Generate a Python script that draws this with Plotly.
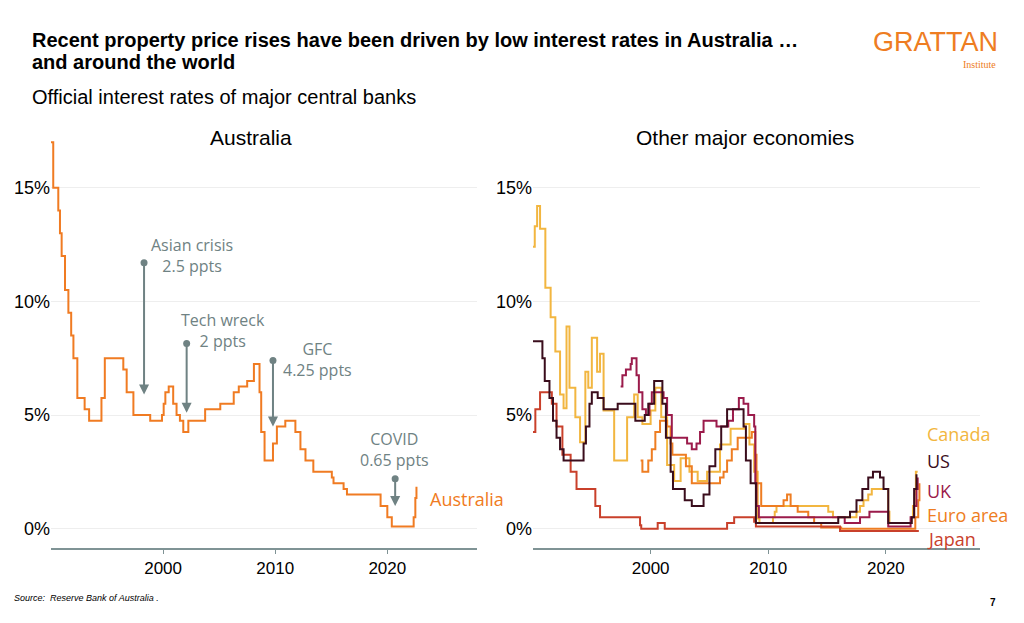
import plotly.graph_objects as go

# Australia cash rate (step changes)
aus_x = [1990, 1990.2, 1990.65, 1990.8, 1990.95, 1991.25, 1991.55, 1991.8, 1992.0, 1992.35, 1993.0, 1993.4,
         1994.5, 1994.8, 1996.45, 1996.75, 1997.35, 1998.85, 1999.9, 2000.05, 2000.2, 2000.5, 2000.9, 2001.2,
         2001.5, 2001.8, 2002.25, 2003.75, 2005.1, 2006.3, 2006.75, 2007.5, 2008.1, 2008.6, 2008.75, 2009.05,
         2009.8, 2010.15, 2010.9, 2011.8, 2012.25, 2012.7, 2013.4, 2015.05, 2015.2, 2016.1, 2016.4, 2019.4,
         2020.0, 2020.4, 2022.35, 2022.5, 2022.6]
aus_y = [17, 15, 14, 13, 12, 10.5, 9.5, 8.5, 7.5, 5.75, 5.25, 4.75,
         5.75, 7.5, 7.0, 6.0, 5.0, 4.75, 5.0, 5.5, 6.0, 6.25, 5.5, 5.0,
         4.75, 4.25, 4.75, 5.25, 5.5, 6.0, 6.25, 6.5, 7.25, 6.0, 4.25, 3.0,
         3.75, 4.5, 4.75, 4.25, 3.5, 3.0, 2.5, 2.25, 2.0, 1.75, 1.5, 1.0,
         0.5, 0.1, 0.5, 1.35, 1.85]

can_x = [1990, 1990.15, 1990.35, 1990.6, 1991.05, 1991.5, 1991.9, 1992.3, 1992.6, 1992.85, 1993.1, 1993.6,
         1994.0, 1994.45, 1994.7, 1995.0, 1995.45, 1995.7, 1996.0, 1996.9, 1997.45, 1998.0, 1998.6, 1998.9,
         1999.3, 2000.0, 2000.4, 2000.9, 2001.4, 2002.0, 2002.55, 2003.3, 2004.0, 2004.8, 2005.9, 2006.8,
         2007.95, 2008.4, 2008.8, 2009.1, 2009.25, 2010.4, 2010.55, 2010.7, 2015.1, 2015.5, 2017.5, 2017.8,
         2018.1, 2018.5, 2018.8, 2020.2, 2020.3, 2022.15, 2022.3, 2022.45, 2022.55, 2022.7]
can_y = [12.4, 13.3, 14.2, 13.2, 10.6, 9.3, 7.8, 5.9, 5.3, 8.9, 6.2, 4.9,
         3.8, 6.9, 6.2, 8.4, 6.9, 7.7, 5.2, 3.0, 3.0, 4.9, 5.9, 4.9,
         4.6, 5.2, 6.2, 4.9, 2.8, 2.1, 3.1, 2.5, 2.1, 2.5, 3.7, 4.4,
         4.6, 3.7, 2.5, 0.45, 0.25, 0.5, 0.75, 1.0, 0.75, 0.5, 0.75, 1.0,
         1.25, 1.5, 1.75, 0.75, 0.25, 0.5, 1.0, 1.5, 2.5, 2.5]

us_x = [1990, 1990.8, 1991.0, 1991.4, 1991.7, 1992.0, 1992.3, 1992.6, 1994.1, 1994.3, 1994.5, 1994.8,
        1995.0, 1995.5, 1996.0, 1997.2, 1998.7, 1999.5, 1999.8, 2000.3, 2001.0, 2001.3, 2001.7, 2001.9,
        2002.9, 2003.5, 2004.5, 2005.0, 2005.5, 2006.0, 2006.5, 2007.7, 2007.9, 2008.1, 2008.5, 2008.95,
        2015.95, 2016.95, 2017.5, 2018.0, 2018.5, 2018.9, 2019.5, 2019.8, 2020.2, 2022.2, 2022.4, 2022.6]
us_y = [8.25, 7.5, 6.5, 5.75, 4.75, 4.0, 3.5, 3.0, 3.0, 3.75, 4.5, 5.5,
        6.0, 5.75, 5.25, 5.5, 4.75, 5.0, 5.5, 6.5, 5.5, 4.0, 2.5, 1.75,
        1.25, 1.0, 1.5, 2.75, 3.5, 4.5, 5.25, 5.25, 4.5, 3.0, 2.0, 0.25,
        0.5, 0.75, 1.25, 1.75, 2.25, 2.5, 2.25, 1.75, 0.25, 0.5, 1.75, 2.4]

uk_x = [1997.45, 1997.6, 1997.9, 1998.3, 1998.4, 1998.8, 1999.0, 1999.3, 1999.6, 1999.9, 2000.1, 2001.1,
        2001.4, 2001.8, 2003.1, 2003.5, 2003.9, 2004.2, 2004.5, 2005.6, 2006.6, 2007.0, 2007.5, 2007.9,
        2008.3, 2008.8, 2008.9, 2009.0, 2009.2, 2016.5, 2017.8, 2018.6, 2020.2, 2021.9, 2022.1, 2022.4,
        2022.6, 2022.7]
uk_y = [6.25, 6.75, 7.0, 7.25, 7.5, 6.75, 6.0, 5.25, 5.0, 5.5, 6.0, 5.75,
        5.0, 4.0, 3.75, 3.5, 3.75, 4.25, 4.75, 4.5, 4.75, 5.25, 5.75, 5.5,
        5.0, 4.5, 2.0, 1.0, 0.5, 0.25, 0.5, 0.75, 0.1, 0.1, 0.5, 1.0,
        1.75, 2.25]

euro_x = [1999.15, 1999.3, 1999.8, 2000.1, 2000.4, 2000.8, 2001.4, 2001.7, 2001.85, 2003.0, 2003.5, 2005.9,
          2006.2, 2006.5, 2006.9, 2007.4, 2008.6, 2008.9, 2009.0, 2009.4, 2011.3, 2011.6, 2011.9, 2012.5,
          2013.4, 2013.9, 2014.5, 2016.2, 2022.5, 2022.75, 2022.85]
euro_y = [3.0, 2.5, 3.0, 3.5, 4.25, 4.75, 4.5, 3.75, 3.25, 2.75, 2.0, 2.25,
          2.5, 3.0, 3.5, 4.0, 4.25, 3.25, 2.0, 1.0, 1.25, 1.5, 1.0, 0.75,
          0.5, 0.25, 0.05, 0.0, 0.5, 1.25, 2.0]

jpn_x = [1990, 1990.2, 1990.6, 1991.6, 1992.0, 1992.5, 1993.2, 1993.7, 1995.3, 1995.7, 1999.1, 1999.2,
         2000.6, 2001.2, 2006.5, 2007.1, 2008.8, 2008.95, 2016.1, 2022.8]
jpn_y = [4.25, 5.25, 6.0, 5.5, 4.5, 3.25, 2.5, 1.75, 1.0, 0.5, 0.15, 0.0,
         0.25, 0.0, 0.25, 0.5, 0.3, 0.1, -0.1, -0.1]

right_series = [("Canada", can_x, can_y, "#f2b640", 448),
                ("Euro area", euro_x, euro_y, "#ee7d22", 529),
                ("Japan", jpn_x, jpn_y, "#c9402b", 553),
                ("UK", uk_x, uk_y, "#9b1b4b", 505),
                ("US", us_x, us_y, "#3a0d1c", 475)]

events = [("Asian crisis<br>2.5 ppts", 1998.3, 11.7, 5.9, 2002.6, 12.0),
          ("Tech wreck<br>2 ppts", 2002.1, 8.15, 5.1, 2005.3, 8.7),
          ("GFC<br>4.25 ppts", 2009.8, 7.4, 4.5, 2013.8, 7.45),
          ("COVID<br>0.65 ppts", 2020.7, 2.2, 1.0, 2020.6, 3.5)]

W = 1024.0
H = 623.0
OFF = 8  # page offset of the rendered figure
grey = "#6f8283"


def px(x):
    return (x - OFF) / W


def py(y):
    return 1 - (y - OFF) / H


fig = go.Figure()

fig.add_trace(go.Scatter(x=aus_x, y=aus_y, mode="lines", line=dict(color="#f07b22", width=2, shape="hv"),
                         xaxis="x", yaxis="y", hoverinfo="skip"))
for name, xs, ys, col, _ in right_series:
    fig.add_trace(go.Scatter(x=xs, y=ys, mode="lines", line=dict(color=col, width=2, shape="hv"),
                             xaxis="x2", yaxis="y2", hoverinfo="skip"))

fig.add_trace(go.Scatter(x=[e[1] for e in events], y=[e[2] for e in events], mode="markers",
                         marker=dict(color=grey, size=7), xaxis="x", yaxis="y"))

ann = []
for txt, ex, y0, y1, tx, ty in events:
    ann.append(dict(x=ex, y=y1, ax=ex, ay=y0, xref="x", yref="y", axref="x", ayref="y", text="",
                    showarrow=True, arrowhead=2, arrowsize=1, arrowwidth=2, arrowcolor=grey))
    ann.append(dict(x=tx, y=ty, xref="x", yref="y", text=txt, showarrow=False,
                    font=dict(family="Open Sans", size=16, color=grey)))

ann.append(dict(x=px(428), y=py(513), xref="paper", yref="paper", xanchor="left", text="Australia",
                showarrow=False, font=dict(family="Open Sans", size=18, color="#f07b22")))
for name, xs, ys, col, ly in right_series:
    ann.append(dict(x=px(925), y=py(ly), xref="paper", yref="paper", xanchor="left", text=name,
                    showarrow=False, font=dict(family="Open Sans", size=18, color=col)))

texts = [
    (30, 40, "<b>Recent property price rises have been driven by low interest rates in Australia …</b>", 20, "black", "left", "Liberation Sans"),
    (30, 62, "<b>and around the world</b>", 20, "black", "left", "Liberation Sans"),
    (30, 97, "Official interest rates of major central banks", 20, "black", "left", "Liberation Sans"),
    (251, 137, "Australia", 21, "black", "center", "Liberation Sans"),
    (745, 137, "Other major economies", 21, "black", "center", "Liberation Sans"),
    (12, 598, "<i>Source:  Reserve Bank of Australia .</i>", 9, "black", "left", "Liberation Sans"),
    (993, 602, "<b>7</b>", 10, "black", "center", "Liberation Sans"),
    (1000, 42, "GRATTAN", 27, "#ee7d22", "right", "Liberation Sans"),
    (998, 64, "Institute", 10, "#ee7d22", "right", "Liberation Serif"),
]
for tx, ty, t, s, c, xa, fam in texts:
    ann.append(dict(x=px(tx), y=py(ty), xref="paper", yref="paper", xanchor=xa, yanchor="middle",
                    text=t, showarrow=False, font=dict(family=fam, size=s, color=c)))

xcommon = dict(range=[1990, 2028], tickvals=[2000, 2010, 2020], showgrid=False, showline=True,
               linecolor="#7f9395", linewidth=2, ticks="outside", tickcolor="#7f9395", ticklen=4,
               tickfont=dict(family="Liberation Sans", size=17, color="black"))
ycommon = dict(range=[-0.85, 17.1], tickvals=[0, 5, 10, 15], ticktext=["0%", "5%", "10%", "15%"],
               showgrid=True, gridcolor="#eeeeee", zeroline=False,
               tickfont=dict(family="Liberation Sans", size=18, color="black"),
               domain=[py(548), py(140)])

fig.update_layout(
    width=1024, height=623, margin=dict(l=0, r=0, t=0, b=0),
    paper_bgcolor="white", plot_bgcolor="white", showlegend=False,
    xaxis=dict(domain=[px(51), px(477)], anchor="y", **xcommon),
    yaxis=dict(anchor="x", **ycommon),
    xaxis2=dict(domain=[px(533), px(980)], anchor="y2", **xcommon),
    yaxis2=dict(anchor="x2", **ycommon),
    annotations=ann,
)

fig.write_html("out.html")
